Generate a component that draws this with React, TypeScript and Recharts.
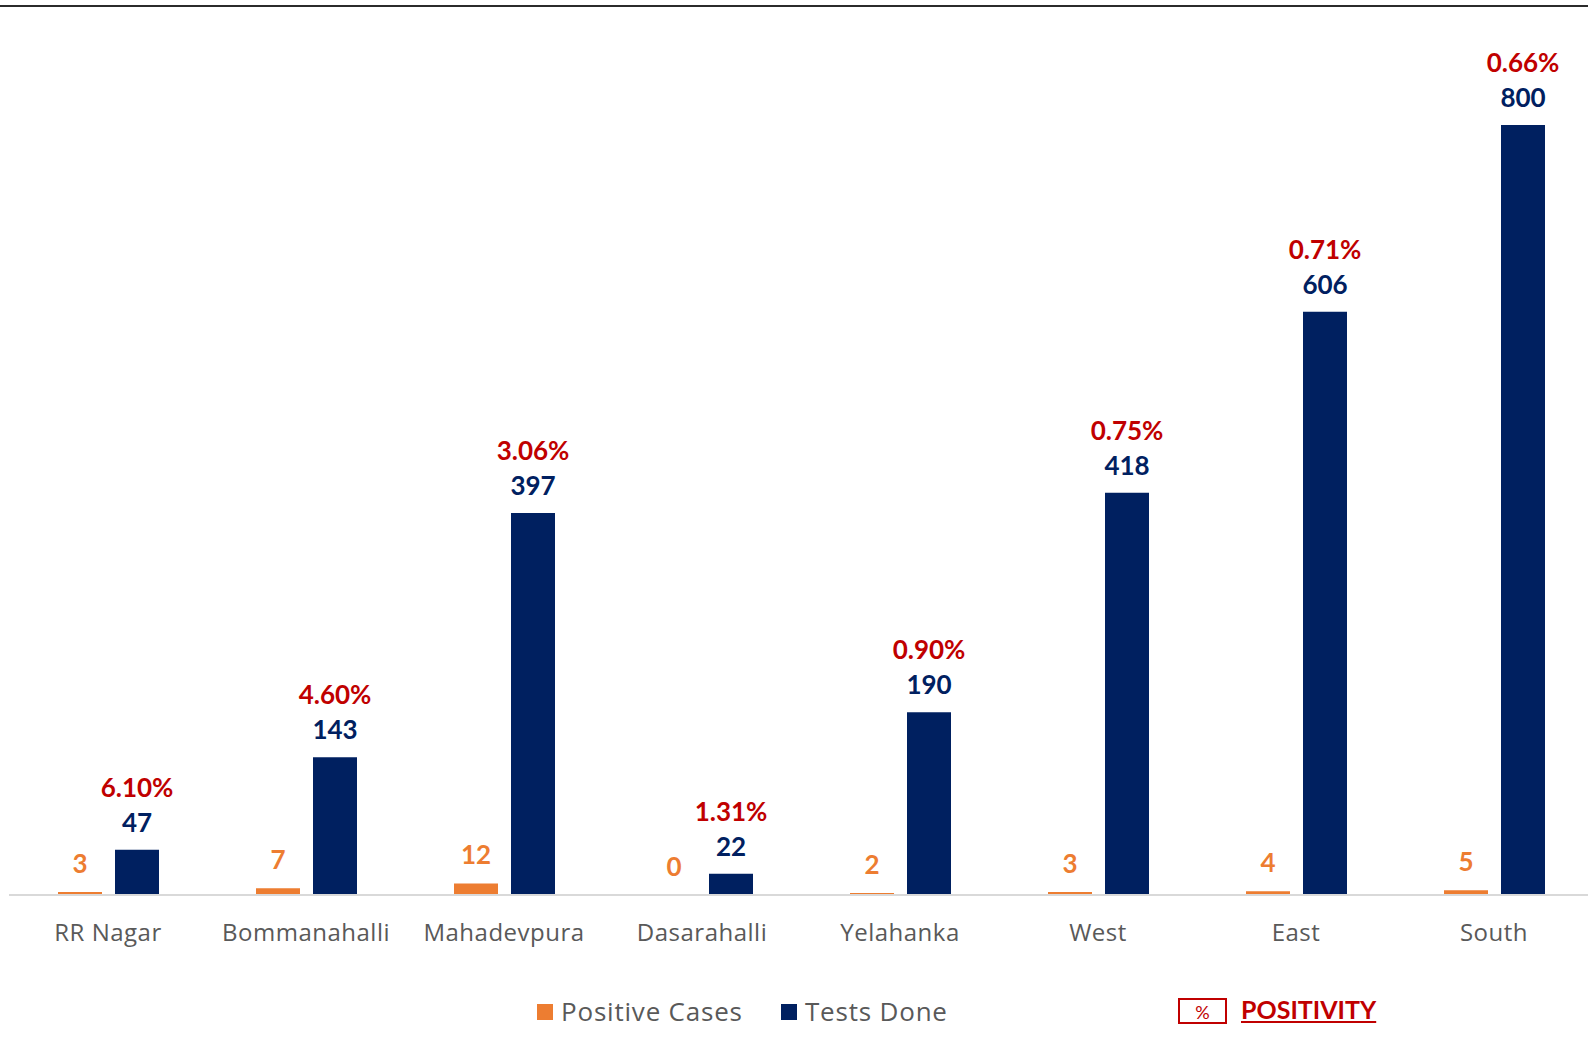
import React from 'react';
import { BarChart, Bar, XAxis, YAxis, LabelList, Legend } from 'recharts';

const zones = ['RR Nagar', 'Bommanahalli', 'Mahadevpura', 'Dasarahalli', 'Yelahanka', 'West', 'East', 'South'];
const positiveCases = [3, 7, 12, 0, 2, 3, 4, 5];
const testsDone = [47, 143, 397, 22, 190, 418, 606, 800];
const positivity = [6.1, 4.6, 3.06, 1.31, 0.9, 0.75, 0.71, 0.66];

const ORANGE = '#ED7D31';
const NAVY = '#002060';
const RED = '#C00000';
const GREY = '#595959';
const FONT = 'Lato, "Open Sans", sans-serif';
const TEXT_FONT = '"Open Sans", Lato, sans-serif';

const data = zones.map((zone, i) => ({
  zone,
  positive: positiveCases[i],
  tests: testsDone[i],
  positivity: positivity[i],
}));

// legend drawn with absolute spots to sit like the original
function LegendBox() {
  const text = { position: 'absolute' as const, top: 7, fontSize: 26, letterSpacing: 0.8, color: GREY, lineHeight: '34px' };
  return (
    <div style={{ position: 'relative', width: 1588, height: 50, fontFamily: TEXT_FONT }}>
      <span style={{ position: 'absolute', left: 537, top: 17, width: 16, height: 16, background: ORANGE }} />
      <span style={{ ...text, left: 561 }}>Positive Cases</span>
      <span style={{ position: 'absolute', left: 781, top: 17, width: 16, height: 16, background: NAVY }} />
      <span style={{ ...text, left: 805 }}>Tests Done</span>
      <span
        style={{
          position: 'absolute',
          left: 1178,
          top: 11,
          width: 45,
          height: 22,
          border: `2px solid ${RED}`,
          color: RED,
          fontSize: 18,
          textAlign: 'center',
          lineHeight: '24px',
          fontFamily: FONT,
        }}
      >
        %
      </span>
      <span
        style={{
          position: 'absolute',
          left: 1241,
          top: 5,
          fontSize: 25,
          fontWeight: 700,
          color: RED,
          textDecoration: 'underline',
          lineHeight: '34px',
          fontFamily: FONT,
        }}
      >
        POSITIVITY
      </span>
    </div>
  );
}

export default function App() {
  return (
    <div
      style={{
        position: 'absolute',
        left: 0,
        top: 0,
        width: 1588,
        height: 1052,
        overflow: 'hidden',
        background: '#fff',
      }}
    >
      <div style={{ position: 'absolute', left: 0, top: 5, width: 1588, height: 2, background: '#2b2b2b' }} />

      <BarChart
        width={1600}
        height={1052}
        data={data}
        margin={{ top: 125, right: 7, left: 9, bottom: 97 }}
        barGap={13}
      >
        <XAxis
          dataKey='zone'
          height={60}
          axisLine={{ stroke: '#D9D9D9', strokeWidth: 2 }}
          tickLine={false}
          tickMargin={23}
          tick={{ fill: GREY, fontSize: 24, fontFamily: TEXT_FONT, letterSpacing: 0.5 }}
          interval={0}
        />
        <YAxis hide domain={[0, 800]} />

        <Legend
          layout='horizontal'
          verticalAlign='middle'
          align='center'
          content={() => <LegendBox />}
          wrapperStyle={{ top: 987, left: 0, width: 1588 }}
        />

        <Bar
          dataKey='positive'
          name='Positive Cases'
          fill={ORANGE}
          barSize={44}
          minPointSize={0.01}
          isAnimationActive={false}
        >
          <LabelList
            dataKey='positive'
            position='top'
            offset={19}
            fill={ORANGE}
            style={{ fontSize: 26, fontWeight: 700, fontFamily: FONT }}
          />
        </Bar>

        <Bar dataKey='tests' name='Tests Done' fill={NAVY} barSize={44} isAnimationActive={false}>
          <LabelList
            dataKey='tests'
            position='top'
            offset={18}
            fill={NAVY}
            style={{ fontSize: 26, fontWeight: 700, fontFamily: FONT }}
          />
          <LabelList
            dataKey='positivity'
            position='top'
            offset={53}
            fill={RED}
            formatter={(v: any) => `${Number(v).toFixed(2)}%`}
            style={{ fontSize: 26, fontWeight: 700, fontFamily: FONT }}
          />
        </Bar>
      </BarChart>
    </div>
  );
}
